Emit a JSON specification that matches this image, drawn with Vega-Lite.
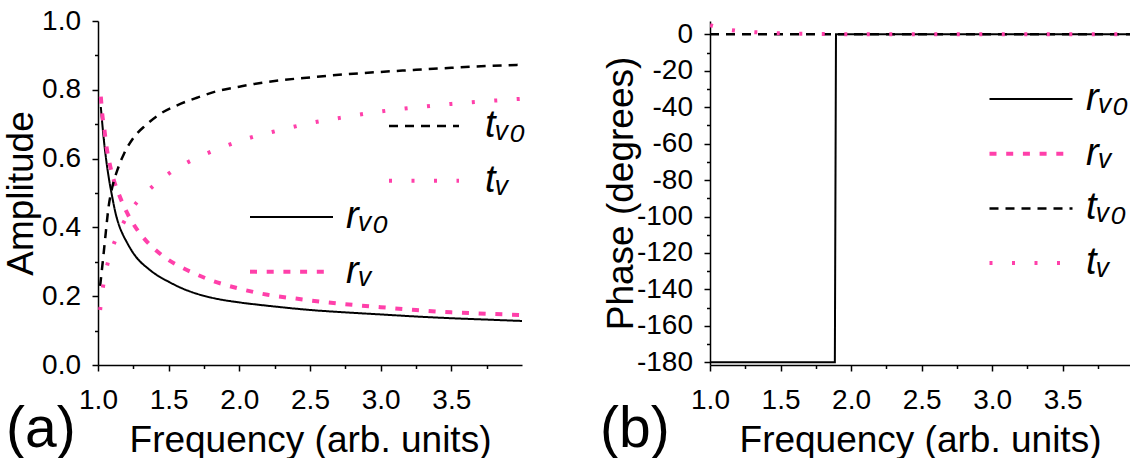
{
  "$schema": "https://vega.github.io/schema/vega-lite/v6.json",
  "background": "white",
  "padding": {"left": 2, "top": 7, "right": 0, "bottom": 0},
  "autosize": {"type": "pad"},
  "bounds": "flush",
  "spacing": 188,
  "config": {
    "view": {"stroke": null},
    "font": "Liberation Sans",
    "axis": {"domainColor": "#000", "domainWidth": 1.5, "tickColor": "#000", "tickWidth": 1.5, "labelFont": "Liberation Sans", "labelFontSize": 28, "labelColor": "#000", "titleFont": "Liberation Sans", "titleFontSize": 37, "titleFontWeight": "normal", "titleColor": "#000", "grid": false, "labelOverlap": false, "labelFlush": false},
    "legend": {"labelFont": "Liberation Sans", "labelFontSize": 38, "labelFontStyle": "italic", "labelColor": "#000", "padding": 0, "rowPadding": 16.7, "titlePadding": 0, "symbolType": "stroke", "symbolSize": 6889, "labelOffset": 13, "orient": "none"}
  },
  "datasets": {
    "amp": [
      {"s": "r_v0", "f": 1.02, "v": 0.75}, {"s": "r_v0", "f": 1.04, "v": 0.66}, {"s": "r_v0", "f": 1.06, "v": 0.59}, {"s": "r_v0", "f": 1.08, "v": 0.535}, {"s": "r_v0", "f": 1.1, "v": 0.49}, {"s": "r_v0", "f": 1.125, "v": 0.44}, {"s": "r_v0", "f": 1.15, "v": 0.405}, {"s": "r_v0", "f": 1.175, "v": 0.38}, {"s": "r_v0", "f": 1.2, "v": 0.36}, {"s": "r_v0", "f": 1.25, "v": 0.325}, {"s": "r_v0", "f": 1.3, "v": 0.3}, {"s": "r_v0", "f": 1.35, "v": 0.282}, {"s": "r_v0", "f": 1.4, "v": 0.266}, {"s": "r_v0", "f": 1.5, "v": 0.242}, {"s": "r_v0", "f": 1.6, "v": 0.222}, {"s": "r_v0", "f": 1.7, "v": 0.207}, {"s": "r_v0", "f": 1.8, "v": 0.196}, {"s": "r_v0", "f": 1.9, "v": 0.188}, {"s": "r_v0", "f": 2.0, "v": 0.182}, {"s": "r_v0", "f": 2.25, "v": 0.17}, {"s": "r_v0", "f": 2.5, "v": 0.16}, {"s": "r_v0", "f": 2.75, "v": 0.153}, {"s": "r_v0", "f": 3.0, "v": 0.147}, {"s": "r_v0", "f": 3.25, "v": 0.141}, {"s": "r_v0", "f": 3.5, "v": 0.136}, {"s": "r_v0", "f": 3.75, "v": 0.132}, {"s": "r_v0", "f": 4.0, "v": 0.128},
      {"s": "r_v", "f": 1.02, "v": 0.78}, {"s": "r_v", "f": 1.03, "v": 0.73}, {"s": "r_v", "f": 1.045, "v": 0.685}, {"s": "r_v", "f": 1.06, "v": 0.635}, {"s": "r_v", "f": 1.08, "v": 0.59}, {"s": "r_v", "f": 1.11, "v": 0.54}, {"s": "r_v", "f": 1.15, "v": 0.494}, {"s": "r_v", "f": 1.2, "v": 0.447}, {"s": "r_v", "f": 1.25, "v": 0.41}, {"s": "r_v", "f": 1.33, "v": 0.366}, {"s": "r_v", "f": 1.42, "v": 0.33}, {"s": "r_v", "f": 1.5, "v": 0.305}, {"s": "r_v", "f": 1.6, "v": 0.282}, {"s": "r_v", "f": 1.7, "v": 0.263}, {"s": "r_v", "f": 1.8, "v": 0.246}, {"s": "r_v", "f": 1.9, "v": 0.233}, {"s": "r_v", "f": 2.0, "v": 0.222}, {"s": "r_v", "f": 2.2, "v": 0.204}, {"s": "r_v", "f": 2.4, "v": 0.193}, {"s": "r_v", "f": 2.6, "v": 0.183}, {"s": "r_v", "f": 2.8, "v": 0.175}, {"s": "r_v", "f": 3.0, "v": 0.168}, {"s": "r_v", "f": 3.25, "v": 0.16}, {"s": "r_v", "f": 3.5, "v": 0.153}, {"s": "r_v", "f": 3.75, "v": 0.149}, {"s": "r_v", "f": 4.0, "v": 0.145},
      {"s": "t_v0", "f": 1.015, "v": 0.23}, {"s": "t_v0", "f": 1.035, "v": 0.305}, {"s": "t_v0", "f": 1.055, "v": 0.385}, {"s": "t_v0", "f": 1.075, "v": 0.46}, {"s": "t_v0", "f": 1.1, "v": 0.515}, {"s": "t_v0", "f": 1.14, "v": 0.57}, {"s": "t_v0", "f": 1.185, "v": 0.615}, {"s": "t_v0", "f": 1.25, "v": 0.66}, {"s": "t_v0", "f": 1.34, "v": 0.698}, {"s": "t_v0", "f": 1.44, "v": 0.73}, {"s": "t_v0", "f": 1.56, "v": 0.755}, {"s": "t_v0", "f": 1.7, "v": 0.777}, {"s": "t_v0", "f": 1.85, "v": 0.797}, {"s": "t_v0", "f": 2.0, "v": 0.809}, {"s": "t_v0", "f": 2.15, "v": 0.82}, {"s": "t_v0", "f": 2.3, "v": 0.828}, {"s": "t_v0", "f": 2.5, "v": 0.836}, {"s": "t_v0", "f": 2.75, "v": 0.845}, {"s": "t_v0", "f": 3.0, "v": 0.852}, {"s": "t_v0", "f": 3.25, "v": 0.858}, {"s": "t_v0", "f": 3.5, "v": 0.864}, {"s": "t_v0", "f": 3.75, "v": 0.869}, {"s": "t_v0", "f": 4.0, "v": 0.873},
      {"s": "t_v", "f": 1.015, "v": 0.16}, {"s": "t_v", "f": 1.035, "v": 0.226}, {"s": "t_v", "f": 1.065, "v": 0.29}, {"s": "t_v", "f": 1.11, "v": 0.35}, {"s": "t_v", "f": 1.17, "v": 0.405}, {"s": "t_v", "f": 1.25, "v": 0.46}, {"s": "t_v", "f": 1.35, "v": 0.505}, {"s": "t_v", "f": 1.48, "v": 0.55}, {"s": "t_v", "f": 1.62, "v": 0.586}, {"s": "t_v", "f": 1.77, "v": 0.615}, {"s": "t_v", "f": 1.92, "v": 0.639}, {"s": "t_v", "f": 2.07, "v": 0.66}, {"s": "t_v", "f": 2.23, "v": 0.677}, {"s": "t_v", "f": 2.5, "v": 0.703}, {"s": "t_v", "f": 2.75, "v": 0.721}, {"s": "t_v", "f": 3.0, "v": 0.737}, {"s": "t_v", "f": 3.25, "v": 0.749}, {"s": "t_v", "f": 3.5, "v": 0.759}, {"s": "t_v", "f": 3.75, "v": 0.767}, {"s": "t_v", "f": 4.0, "v": 0.774}
    ],
    "phase": [
      {"s": "r_v0", "f": 1.0, "p": -180}, {"s": "r_v0", "f": 1.885, "p": -180}, {"s": "r_v0", "f": 1.893, "p": 0}, {"s": "r_v0", "f": 3.977, "p": 0},
      {"s": "t_v0", "f": 1.0, "p": 0}, {"s": "t_v0", "f": 3.977, "p": 0},
      {"s": "t_v", "f": 1.0, "p": 5}, {"s": "t_v", "f": 1.1, "p": 3}, {"s": "t_v", "f": 1.2, "p": 1.8}, {"s": "t_v", "f": 1.35, "p": 1.0}, {"s": "t_v", "f": 1.5, "p": 0.5}, {"s": "t_v", "f": 1.75, "p": 0.2}, {"s": "t_v", "f": 2.0, "p": 0.05}, {"s": "t_v", "f": 2.5, "p": 0}, {"s": "t_v", "f": 3.977, "p": 0}
    ]
  },
  "hconcat": [
    {
      "width": 424,
      "height": 344,
      "title": {"text": "(a)", "orient": "bottom", "anchor": "start", "frame": "group", "fontSize": 57, "font": "Liberation Sans", "fontWeight": "normal", "color": "#000", "baseline": "alphabetic", "offset": 0, "dx": -92, "dy": -11},
      "data": {"name": "amp"},
      "encoding": {
        "x": {"field": "f", "type": "quantitative", "scale": {"domain": [1, 4], "nice": false, "zero": false}, "axis": {"values": [1, 1.25, 1.5, 1.75, 2, 2.25, 2.5, 2.75, 3, 3.25, 3.5, 3.75], "labelExpr": "abs(datum.value*2-round(datum.value*2))>0.01 ? '' : format(datum.value,'.1f')", "tickSize": {"condition": {"test": "abs(datum.value*2-round(datum.value*2))>0.01", "value": 3.5}, "value": 6}, "labelPadding": 15, "labelOverlap": false, "title": "Frequency (arb. units)", "titlePadding": 8}},
        "y": {"field": "v", "type": "quantitative", "scale": {"domain": [0, 1], "nice": false}, "axis": {"values": [0, 0.1, 0.2, 0.3, 0.4, 0.5, 0.6, 0.7, 0.8, 0.9, 1.0], "labelExpr": "abs(datum.value*5-round(datum.value*5))>0.01 ? '' : format(datum.value,'.1f')", "tickSize": {"condition": {"test": "abs(datum.value*5-round(datum.value*5))>0.01", "value": 3.5}, "value": 6}, "labelPadding": 11.5, "labelOverlap": false, "title": "Amplitude", "titlePadding": 1.5}}
      },
      "layer": [
        {
          "layer": [
            {
              "transform": [{"filter": "datum.s == 'r_v0'"}],
              "mark": {"type": "line", "interpolate": "monotone", "clip": true, "strokeWidth": 2},
              "encoding": {
                "color": {"field": "s", "type": "nominal", "scale": {"domain": ["r_v0", "r_v"], "range": ["#000000", "#ff40aa"]}, "legend": {"title": null, "legendX": 152, "legendY": 177, "labelExpr": "datum.label == 'r_v0' ? 'r\u1d65\u2080' : 'r\u1d65'", "encode": {"symbols": {"update": {"size": {"value": 6889}, "x": {"value": 41.5}, "strokeWidth": {"signal": "datum.value == 'r_v0' ? 2 : 4"}}}, "labels": {"update": {"x": {"value": 96}}}}}},
                "strokeDash": {"field": "s", "type": "nominal", "scale": {"domain": ["r_v0", "r_v"], "range": [[1, 0], [7, 9.7]]}, "legend": {"title": null, "legendX": 152, "legendY": 177, "labelExpr": "datum.label == 'r_v0' ? 'r\u1d65\u2080' : 'r\u1d65'", "encode": {"symbols": {"update": {"size": {"value": 6889}, "x": {"value": 41.5}, "strokeWidth": {"signal": "datum.value == 'r_v0' ? 2 : 4"}}}, "labels": {"update": {"x": {"value": 96}}}}}}
              }
            },
            {
              "transform": [{"filter": "datum.s == 'r_v'"}],
              "mark": {"type": "line", "interpolate": "monotone", "clip": true, "strokeWidth": 4},
              "encoding": {
                "color": {"field": "s", "type": "nominal"},
                "strokeDash": {"field": "s", "type": "nominal"}
              }
            }
          ]
        },
        {
          "layer": [
            {
              "transform": [{"filter": "datum.s == 't_v0'"}],
              "mark": {"type": "line", "interpolate": "monotone", "clip": true, "strokeWidth": 2.5},
              "encoding": {
                "color": {"field": "s", "type": "nominal", "scale": {"domain": ["t_v0", "t_v"], "range": ["#000000", "#ff40aa"]}, "legend": {"title": null, "legendX": 291, "legendY": 86, "labelExpr": "datum.label == 't_v0' ? 't\u1d65\u2080' : 't\u1d65'", "encode": {"symbols": {"update": {"size": {"value": 4900}, "x": {"value": 35}, "strokeWidth": {"signal": "datum.value == 't_v0' ? 2.5 : 4"}}}, "labels": {"update": {"x": {"value": 96}}}}}},
                "strokeDash": {"field": "s", "type": "nominal", "scale": {"domain": ["t_v0", "t_v"], "range": [[9, 7], [3, 19.5]]}, "legend": {"title": null, "legendX": 291, "legendY": 86, "labelExpr": "datum.label == 't_v0' ? 't\u1d65\u2080' : 't\u1d65'", "encode": {"symbols": {"update": {"size": {"value": 4900}, "x": {"value": 35}, "strokeWidth": {"signal": "datum.value == 't_v0' ? 2.5 : 4"}}}, "labels": {"update": {"x": {"value": 96}}}}}}
              }
            },
            {
              "transform": [{"filter": "datum.s == 't_v'"}],
              "mark": {"type": "line", "interpolate": "monotone", "clip": true, "strokeWidth": 4},
              "encoding": {
                "color": {"field": "s", "type": "nominal"},
                "strokeDash": {"field": "s", "type": "nominal"}
              }
            }
          ]
        }
      ],
      "resolve": {"scale": {"color": "independent", "strokeDash": "independent"}}
    },
    {
      "width": 420,
      "height": 344,
      "title": {"text": "(b)", "orient": "bottom", "anchor": "start", "frame": "group", "fontSize": 57, "font": "Liberation Sans", "fontWeight": "normal", "color": "#000", "baseline": "alphabetic", "offset": 0, "dx": -110, "dy": -11},
      "data": {"name": "phase"},
      "encoding": {
        "x": {"field": "f", "type": "quantitative", "scale": {"domain": [1, 3.977], "nice": false, "zero": false}, "axis": {"values": [1, 1.25, 1.5, 1.75, 2, 2.25, 2.5, 2.75, 3, 3.25, 3.5, 3.75], "labelExpr": "abs(datum.value*2-round(datum.value*2))>0.01 ? '' : format(datum.value,'.1f')", "tickSize": {"condition": {"test": "abs(datum.value*2-round(datum.value*2))>0.01", "value": 3.5}, "value": 6}, "labelPadding": 15, "labelOverlap": false, "title": "Frequency (arb. units)", "titlePadding": 8}},
        "y": {"field": "p", "type": "quantitative", "scale": {"domain": [-181.5, 7.3], "nice": false, "zero": false}, "axis": {"values": [0, -10, -20, -30, -40, -50, -60, -70, -80, -90, -100, -110, -120, -130, -140, -150, -160, -170, -180], "labelExpr": "indexof([0, -20, -40, -60, -80, -100, -120, -140, -160, -180], datum.value) >= 0 ? '' + datum.value : ''", "tickSize": {"condition": {"test": "indexof([0, -20, -40, -60, -80, -100, -120, -140, -160, -180], datum.value) < 0", "value": 3.5}, "value": 6}, "labelPadding": 11.5, "labelOverlap": false, "labelSeparation": 0, "labelBound": false, "title": "Phase (degrees)", "titlePadding": -4}}
      },
      "layer": [
        {
          "transform": [{"filter": "datum.s == 'r_v0'"}],
          "mark": {"type": "line", "interpolate": "linear", "clip": true, "strokeWidth": 2},
          "encoding": {
            "color": {"field": "s", "type": "nominal", "scale": {"domain": ["r_v0", "r_v", "t_v0", "t_v"], "range": ["#000000", "#ff40aa", "#000000", "#ff40aa"]}, "legend": {"title": null, "legendX": 279.5, "legendY": 59, "labelExpr": "datum.label == 'r_v0' ? 'r\u1d65\u2080' : datum.label == 'r_v' ? 'r\u1d65' : datum.label == 't_v0' ? 't\u1d65\u2080' : 't\u1d65'", "encode": {"symbols": {"update": {"size": {"value": 6889}, "x": {"value": 41.5}, "strokeWidth": {"signal": "datum.value == 'r_v0' ? 2 : datum.value == 't_v0' ? 2.5 : 4"}}}, "labels": {"update": {"x": {"value": 96.5}}}}}},
            "strokeDash": {"field": "s", "type": "nominal", "scale": {"domain": ["r_v0", "r_v", "t_v0", "t_v"], "range": [[1, 0], [7, 9.7], [9, 7], [3, 19.5]]}, "legend": {"title": null, "legendX": 279.5, "legendY": 59, "labelExpr": "datum.label == 'r_v0' ? 'r\u1d65\u2080' : datum.label == 'r_v' ? 'r\u1d65' : datum.label == 't_v0' ? 't\u1d65\u2080' : 't\u1d65'", "encode": {"symbols": {"update": {"size": {"value": 6889}, "x": {"value": 41.5}, "strokeWidth": {"signal": "datum.value == 'r_v0' ? 2 : datum.value == 't_v0' ? 2.5 : 4"}}}, "labels": {"update": {"x": {"value": 96.5}}}}}}
          }
        },
        {
          "transform": [{"filter": "datum.s == 't_v0'"}],
          "mark": {"type": "line", "interpolate": "linear", "clip": true, "strokeWidth": 2.5},
          "encoding": {
            "color": {"field": "s", "type": "nominal"},
            "strokeDash": {"field": "s", "type": "nominal"}
          }
        },
        {
          "transform": [{"filter": "datum.s == 't_v'"}],
          "mark": {"type": "line", "interpolate": "monotone", "clip": true, "strokeWidth": 4},
          "encoding": {
            "color": {"field": "s", "type": "nominal"},
            "strokeDash": {"field": "s", "type": "nominal"}
          }
        }
      ]
    }
  ],
  "resolve": {"scale": {"color": "independent", "strokeDash": "independent", "x": "independent", "y": "independent"}}
}
